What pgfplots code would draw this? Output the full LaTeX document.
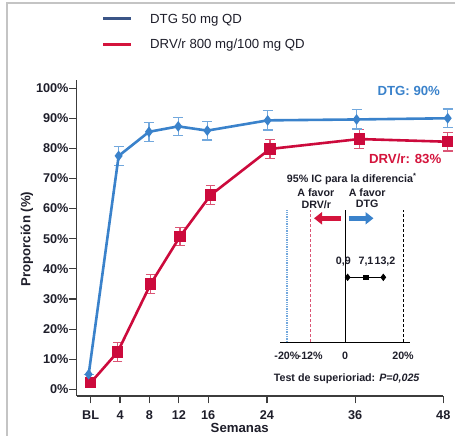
\documentclass[border=0pt]{standalone}
\usepackage{pgfplots}
\pgfplotsset{compat=1.18}
\usepackage{fontspec}
\setmainfont{Liberation Sans}
\usetikzlibrary{arrows.meta}
\definecolor{dtgblue}{HTML}{3A82CB}
\definecolor{dtgerr}{HTML}{72A8DD}
\definecolor{drvred}{HTML}{CC0A3C}
\definecolor{drverr}{HTML}{DB5575}
\definecolor{navy}{HTML}{3B5587}
\definecolor{legred}{HTML}{D4143C}
\definecolor{txt}{HTML}{1E1E2A}
\definecolor{axgray}{HTML}{3C3C3C}
\definecolor{framegray}{HTML}{C4C4C4}

\pgfplotstableread{
x y e
-0.27 5.0 0
3.81 77.5 3.1
7.94 85.5 3.1
11.92 87.3 3.05
15.87 85.9 3.1
24.09 89.3 3.2
36.2 89.6 3.2
48.6 90.0 3.1
}\dtg
\pgfplotstableread{
x y e
0 2.2 0
3.67 12.4 3.1
8.17 35.0 3.05
12.15 50.7 3.05
16.33 64.5 3.1
24.4 79.8 3.1
36.56 83.1 3.1
48.6 82.2 3.1
}\drv

\begin{document}
\begin{tikzpicture}[x=1pt,y=1pt]
\useasboundingbox (0pt,0pt) rectangle (455pt,436pt);
\draw[framegray, line width=2pt] (7pt,0pt) -- (7pt,433pt) -- (455pt,433pt);

% legend
\draw[navy, line width=3pt] (103pt,417.7pt) -- (131pt,417.7pt);
\node[anchor=base west, inner sep=0pt, font=\fontsize{13.2}{15}\selectfont, text=txt] at (150pt,412.7pt) {DTG 50 mg QD};
\draw[legred, line width=3pt] (103pt,391.7pt) -- (131pt,391.7pt);
\node[anchor=base west, inner sep=0pt, font=\fontsize{13.2}{15}\selectfont, text=txt] at (150pt,387.5pt) {DRV/r 800 mg/100 mg QD};

\begin{axis}[at={(76.7pt,40pt)}, anchor=south west, scale only axis,
  width=366.6pt, height=316pt,
  xmin=-1.9, xmax=48, ymin=-2.2, ymax=102.7,
  axis x line*=bottom, axis y line*=left, clip=false,
  tick align=outside, major tick length=7.5pt,
  xtick={0,4,8,12,16,24,36,48}, xticklabels={BL,4,8,12,16,24,36,48},
  ytick={0,10,...,100},
  yticklabels={0\%,10\%,20\%,30\%,40\%,50\%,60\%,70\%,80\%,90\%,100\%},
  tick label style={font=\fontsize{12.7}{14}\selectfont\bfseries, text=txt},
  yticklabel style={inner sep=0.5pt},
  xticklabel style={yshift=-4pt},
  axis line style={line width=1.2pt, color=axgray},
  tick style={line width=1.2pt, color=axgray},
  minor tick num=0]
\addplot[draw=none, mark=none, forget plot,
  error bars/.cd, y dir=both, y explicit,
  error bar style={drverr, line width=1.2pt},
  error mark options={drverr, line width=1.2pt, mark size=4.8pt, rotate=90}]
  table[x=x, y=y, y error=e] {\drv};
\addplot[drvred, line width=2.6pt, mark=square*, mark size=4.3pt, mark options={solid}]
  table[x=x, y=y] {\drv};
\addplot[draw=none, mark=none, forget plot,
  error bars/.cd, y dir=both, y explicit,
  error bar style={dtgerr, line width=1.2pt},
  error mark options={dtgerr, line width=1.2pt, mark size=5pt, rotate=90}]
  table[x=x, y=y, y error=e] {\dtg};
\addplot[dtgblue, line width=2.6pt, mark=diamond*, mark size=3.2pt, mark options={solid}]
  table[x=x, y=y] {\dtg};
\end{axis}

% inset forest plot
\begin{axis}[at={(280pt,94pt)}, anchor=south west, scale only axis,
  width=130pt, height=132pt,
  xmin=-22.4, xmax=22.4, ymin=0, ymax=1,
  axis x line*=bottom, axis y line=none, clip=false,
  xtick={-20,-12,0,20}, xticklabels={-20\%,-12\%,0,20\%},
  major tick length=0pt,
  tick label style={font=\fontsize{10.7}{12}\selectfont\bfseries, text=txt},
  xticklabel style={yshift=-6.5pt},
  axis line style={line width=0.9pt, color=black}]
\addplot[dtgerr, densely dotted, line width=1.3pt] coordinates {(-20,0) (-20,1)};
\addplot[drverr, densely dashed, line width=1.1pt] coordinates {(-12,0) (-12,1)};
\addplot[black, line width=0.9pt] coordinates {(0,0) (0,1)};
\addplot[black, densely dashed, line width=0.9pt] coordinates {(20,0) (20,1)};
\addplot[black, line width=0.7pt, mark=diamond*, mark size=3.2pt] coordinates {(0.9,0.49) (13.2,0.49)};
\addplot[black, only marks, mark=square*, mark size=2.3pt] coordinates {(7.1,0.49)};
\end{axis}

% inset annotations
\begin{scope}[font=\fontsize{10.7}{12}\selectfont\bfseries, text=txt]
\node at (351.7pt,257pt) {95\% IC para la diferencia\textsuperscript{*}};
\node at (315.8pt,243.7pt) {A favor};
\node at (316.3pt,231.7pt) {DRV/r};
\node at (367.2pt,243.7pt) {A favor};
\node at (367.2pt,231.7pt) {DTG};
\node at (343.3pt,174.3pt) {0,9};
\node at (366pt,174.3pt) {7,1};
\node at (385pt,174.3pt) {13,2};
\node at (346.7pt,57.7pt) {Test de superioriad: \textit{P=0,025}};
\end{scope}
\draw[legred, line width=5pt, -{Triangle[length=8pt, width=12pt]}] (341pt,217.7pt) -- (314pt,217.7pt);
\draw[dtgblue, line width=5pt, -{Triangle[length=8pt, width=12pt]}] (348.5pt,217.7pt) -- (373.5pt,217.7pt);

\node[font=\fontsize{13.2}{15}\selectfont\bfseries, text=dtgblue] at (408.8pt,345pt) {DTG: 90\%};
\node[font=\fontsize{13.2}{15}\selectfont\bfseries, text=legred] at (405.2pt,276.7pt) {DRV/r: 83\%};
\node[rotate=90, font=\fontsize{13.2}{15}\selectfont\bfseries, text=txt] at (27pt,197pt) {Proporción (\%)};
\node[anchor=base, inner sep=0pt, font=\fontsize{13.2}{15}\selectfont\bfseries, text=txt] at (239.7pt,3.3pt) {Semanas};
\end{tikzpicture}
\end{document}
